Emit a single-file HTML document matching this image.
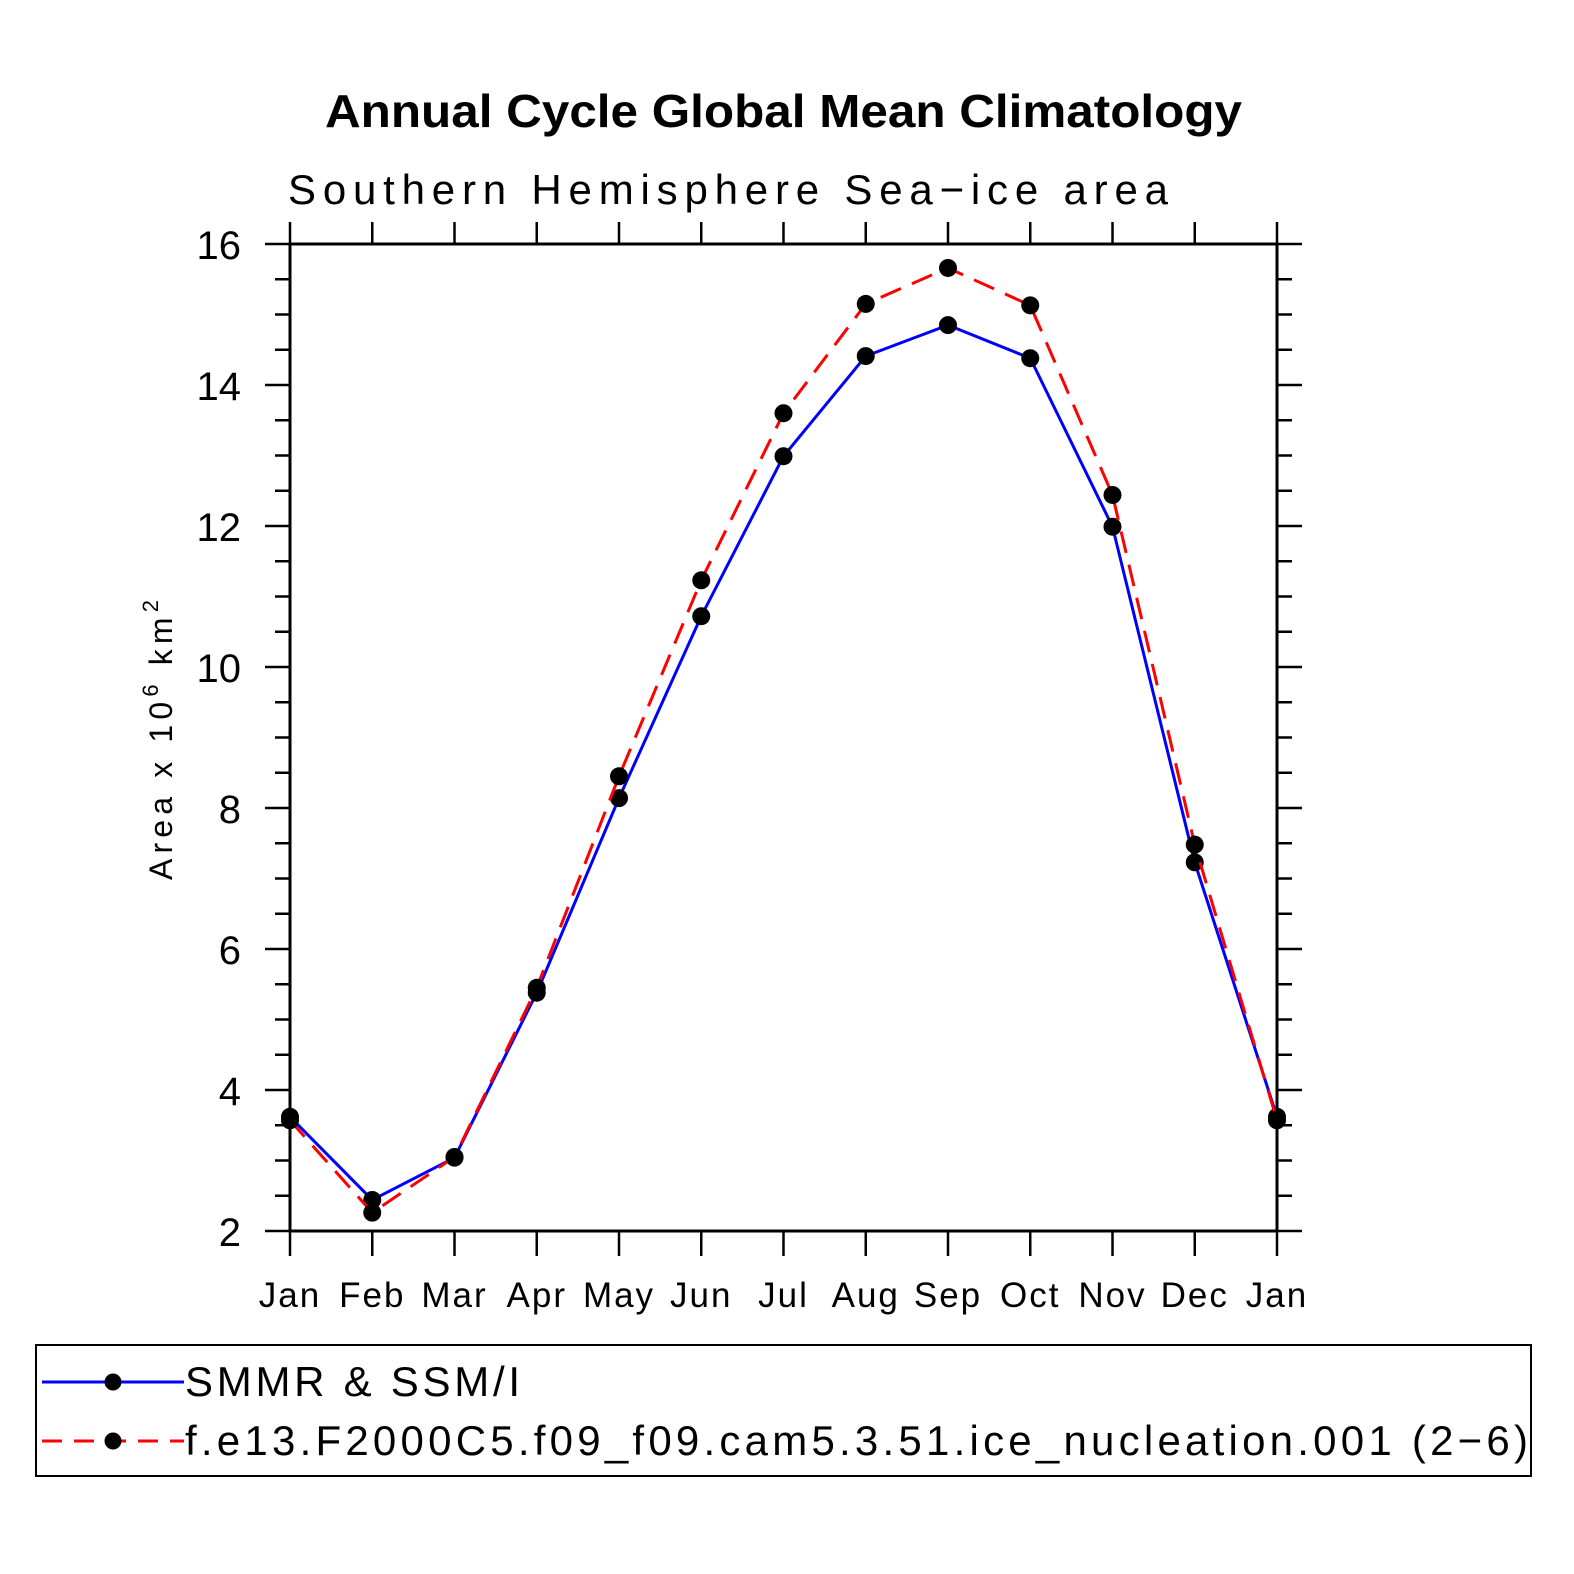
<!DOCTYPE html>
<html><head><meta charset="utf-8"><style>
html,body{margin:0;padding:0;background:#fff;overflow:hidden;}
svg{display:block;}
svg text{font-family:"Liberation Sans",sans-serif;}
</style></head><body>
<svg id="chart" width="1574" height="1574" xmlns="http://www.w3.org/2000/svg">
<text x="325" y="127" font-size="46" font-weight="bold" textLength="917" lengthAdjust="spacingAndGlyphs">Annual Cycle Global Mean Climatology</text>
<text x="288" y="204" font-size="42" textLength="880" lengthAdjust="spacing">Southern Hemisphere Sea−ice area</text>
<text transform="translate(172,880) rotate(-90)" font-size="32" textLength="280" lengthAdjust="spacing">Area x 10<tspan dy="-14" font-size="22">6</tspan><tspan dy="14"> km</tspan><tspan dy="-14" font-size="22">2</tspan></text>
<g id="axes"></g>
<g id="series"></g>
<rect x="36" y="1345" width="1495" height="131" fill="none" stroke="#000" stroke-width="2"/>
<g>
<line x1="42" y1="1382" x2="184" y2="1382" stroke="#0000ff" stroke-width="3"/>
<circle cx="113" cy="1382" r="8.5" fill="#000"/>
<text x="185" y="1396" font-size="42" textLength="335" lengthAdjust="spacing">SMMR &amp; SSM/I</text>
</g>
<g>
<line x1="42" y1="1441" x2="184" y2="1441" stroke="#ff0000" stroke-width="3" stroke-dasharray="20,12"/>
<circle cx="113" cy="1441" r="8.5" fill="#000"/>
<text x="185" y="1455" font-size="42" textLength="1343" lengthAdjust="spacing">f.e13.F2000C5.f09_f09.cam5.3.51.ice_nucleation.001 (2−6)</text>
</g>
</svg>
<script>
const months = ["Jan","Feb","Mar","Apr","May","Jun","Jul","Aug","Sep","Oct","Nov","Dec","Jan"];
const obsValues = [3.62,2.44,3.04,5.38,8.14,10.72,12.99,14.41,14.85,14.38,11.99,7.23,3.62];
const modelValues = [3.57,2.26,3.05,5.45,8.45,11.23,13.6,15.15,15.66,15.13,12.44,7.48,3.57];
const yTicks = [2,4,6,8,10,12,14,16];

const NS="http://www.w3.org/2000/svg";
const X0=290,X1=1277,Y0=1231,Y1=244,YMIN=2,YMAX=16;
function xs(i){return X0+(X1-X0)*i/(months.length-1);}
function ys(v){return Y0-(v-YMIN)/(YMAX-YMIN)*(Y0-Y1);}
function mk(tag,attrs,parent){const e=document.createElementNS(NS,tag);for(const k in attrs)e.setAttribute(k,attrs[k]);parent.appendChild(e);return e;}
const axes=document.getElementById('axes');
const frame=mk('rect',{x:X0,y:Y1,width:X1-X0,height:Y0-Y1,fill:'none',stroke:'#000','stroke-width':3},axes);


for(let v=YMIN;v<=YMAX+1e-9;v+=0.5){
  const y=ys(v),major=Math.abs(v-Math.round(v))<1e-9&&Math.round(v)%2===0;
  const L=major?25:15;
  mk('line',{x1:X0-L,y1:y,x2:X0,y2:y,stroke:'#000','stroke-width':2.5},axes);
  mk('line',{x1:X1,y1:y,x2:X1+L,y2:y,stroke:'#000','stroke-width':2.5},axes);
}
yTicks.forEach(v=>{
  const t=mk('text',{x:241,y:ys(v)+15,'text-anchor':'end','font-size':40},axes);
  t.textContent=v;
  
  
});
months.forEach((m,i)=>{
  const x=xs(i);
  mk('line',{x1:x,y1:Y0,x2:x,y2:Y0+25,stroke:'#000','stroke-width':2.5},axes);
  mk('line',{x1:x,y1:Y1-22,x2:x,y2:Y1,stroke:'#000','stroke-width':2.5},axes);
  const t=mk('text',{x:x,y:1307,'text-anchor':'middle','font-size':35,'letter-spacing':2},axes);
  t.textContent=m;
  
  
});
const ser=document.getElementById('series');
function drawSeries(vals,color,dash,name){
  const pts=vals.map((v,i)=>xs(i)+','+ys(v)).join(' ');
  const pl=mk('polyline',{points:pts,fill:'none',stroke:color,'stroke-width':3},ser);
  if(dash)pl.setAttribute('stroke-dasharray',dash);
  
  
  vals.forEach((v,i)=>{
    const c=mk('circle',{cx:xs(i),cy:ys(v),r:9,fill:'#000'},ser);
    
    
  });
}
drawSeries(obsValues,'#0000ff',null,'obs');
drawSeries(modelValues,'#ff0000','22,12','model');
</script>
</body></html>
